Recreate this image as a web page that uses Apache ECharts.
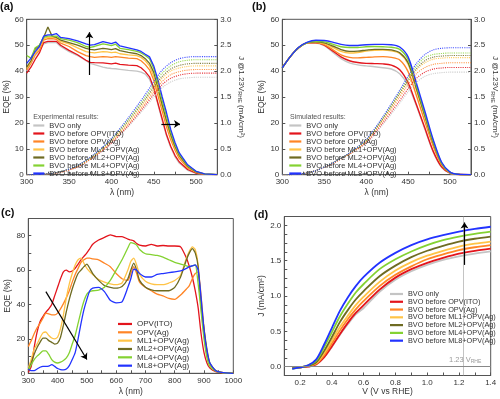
<!DOCTYPE html>
<html><head><meta charset="utf-8">
<script src="https://cdn.jsdelivr.net/npm/echarts/dist/echarts.min.js"></script>
<style>html,body{margin:0;padding:0;background:#fff}#c{width:500px;height:399px}</style>
</head><body><div id="c"></div><script>
// ---------- shared ----------
const names = ['BVO only','BVO before OPV(ITO)','BVO before OPV(Ag)','BVO before ML1+OPV(Ag)','BVO before ML2+OPV(Ag)','BVO before ML4+OPV(Ag)','BVO before ML8+OPV(Ag)'];
const colors = ['#c4c4c4','#e3141c','#ff8526','#ffc447','#6e6b22','#84d232','#2233ff'];
const namesC = ['OPV(ITO)','OPV(Ag)','ML1+OPV(Ag)','ML2+OPV(Ag)','ML4+OPV(Ag)','ML8+OPV(Ag)'];
const colorsC = ['#e3141c','#ff8526','#ffc447','#6e6b22','#84d232','#2233ff'];

// ---------- panel (a): experimental EQE ----------
const lamA = [300,305,310,315,320,325,330,335,340,350,360,370,375,380,390,395,400,405,410,420,430,435,440,445,450,455,460,465,470,475,480,490,500,510,525];
const eqeA_gray   = [40,43,46,48,50.5,51,51,51,49.5,47.5,46,44,43,42.5,41.5,41.2,41,40.9,40.7,40.3,40,39.6,38.8,36.8,33,27,20.8,15,10.5,7,4.5,1.7,0.5,0.1,0];
const eqeA_red    = [39.2,41.5,44.5,47,51,51.5,51.5,51.5,50,48,46.3,44.2,43.4,43.3,43.2,43,42.8,43.1,42.6,42.3,42.1,41.3,39.8,37.8,33.5,27.5,21.5,15.5,11,7.5,5,2,0.6,0.1,0];
const eqeA_orange = [40.5,43,46.5,48,52,52.5,52.5,52.3,50.8,49.5,47.5,46,45.6,45.3,45.6,45.5,45.3,45.6,45.4,45,44.8,44,42.5,40.5,36.5,30.5,24.5,18.5,13.5,9.5,6.3,2.6,0.9,0.2,0];
const eqeA_yellow = [41,43.5,47,49,52.5,53,53,52.8,51.5,50.5,49,47.5,47.2,47,47.5,47.4,47.1,47.3,46.7,46.3,46,45.3,44,42,38,32,26,20,14.5,10.3,7,3,1,0.2,0];
const eqeA_olive  = [41.5,44,48.5,50,53,57,53.5,53,52,51,50,48.8,48.4,48.2,48.8,48.6,48.3,48.7,47.9,47.2,46.7,46,44.8,43,39.5,33.5,27,21,15.5,11,7.5,3.2,1.1,0.25,0];
const eqeA_green  = [46,45,49,50,53,53.5,53.5,53.5,52.5,52,51,49.5,49.2,49.5,50.5,50.2,49.8,50.4,48.8,48.3,47.6,47,46,44.8,41,35,28.5,22.5,16.5,11.8,8,3.5,1.2,0.3,0];
const eqeA_blue   = [43,45,47.5,49.5,53.5,54,54,54.5,53,52.5,51.7,50.5,50,50.2,51.4,51,50.6,51.2,49.7,49,48.2,47.6,46.5,45.5,42,36.5,30,24,17.5,12.5,8.5,3.8,1.3,0.3,0];

const lamJ = [300,320,340,360,380,400,420,440,450,460,470,480,490,500,525];
const jA_gray   = [0,0.01,0.05,0.15,0.35,0.6,0.93,1.3,1.5,1.68,1.79,1.85,1.87,1.88,1.88];
const jA_red    = [0,0.01,0.05,0.15,0.35,0.61,0.95,1.34,1.55,1.74,1.86,1.92,1.95,1.96,1.96];
const jA_orange = [0,0.01,0.05,0.16,0.36,0.63,0.98,1.38,1.6,1.8,1.93,1.99,2.02,2.03,2.03];
const jA_yellow = [0,0.01,0.06,0.17,0.37,0.65,1.01,1.42,1.65,1.86,2.0,2.06,2.09,2.1,2.1];
const jA_olive  = [0,0.01,0.06,0.17,0.38,0.67,1.04,1.46,1.69,1.9,2.04,2.11,2.14,2.15,2.15];
const jA_green  = [0,0.01,0.06,0.18,0.39,0.69,1.07,1.5,1.74,1.96,2.1,2.18,2.21,2.22,2.22];
const jA_blue   = [0,0.01,0.06,0.18,0.4,0.7,1.1,1.55,1.8,2.02,2.16,2.24,2.27,2.28,2.28];

// ---------- panel (b): simulated EQE ----------
const lamB = [300,310,320,330,340,350,360,370,380,390,400,410,420,430,440,450,460,470,480,490,500,510,525];
const eqeB_gray   = [41.3,45.8,49.0,50.8,50.8,49.8,47.3,44.8,43.2,42.4,42.0,41.7,41.3,40.8,39.0,34.5,26.5,17.5,8.7,2.8,0.5,0.05,0];
const eqeB_red    = [41.3,45.8,49.1,50.9,50.9,50.0,47.8,45.5,44.0,43.3,43.0,42.9,42.8,42.3,40.5,35.5,27.0,18.0,9.0,3.0,0.6,0.05,0];
const eqeB_orange = [41.3,45.8,49.1,50.9,51.0,50.2,48.3,46.3,45.3,45.1,45.3,45.5,45.6,45.3,44.3,39.8,30.5,20.5,11.0,3.8,0.7,0.1,0];
const eqeB_yellow = [41.3,45.8,49.2,51.0,51.2,50.6,49.2,47.6,47.0,47.2,47.7,48.0,48.1,47.8,46.8,42.7,32.7,22.3,12.0,4.2,0.8,0.1,0];
const eqeB_olive  = [41.3,45.8,49.2,51.0,51.3,50.9,49.7,48.3,47.6,47.7,48.1,48.4,48.4,48.2,47.1,43.2,33.2,22.7,12.2,4.3,0.85,0.12,0];
const eqeB_green  = [41.3,45.8,49.2,51.0,51.5,51.3,50.4,49.4,49.1,49.1,49.4,49.5,49.4,49.2,48.4,44.5,34.2,23.5,12.8,4.5,0.9,0.12,0];
const eqeB_blue   = [41.3,45.8,49.3,51.2,51.9,51.8,51.2,50.3,49.9,49.9,50.2,50.3,50.3,50.2,49.3,45.5,35.2,24.5,13.5,4.8,1.0,0.15,0];

const jB_gray   = [0,0.01,0.08,0.22,0.39,0.6,0.97,1.38,1.6,1.78,1.9,1.95,1.97,1.98,1.98];
const jB_red    = [0,0.01,0.08,0.22,0.4,0.62,1.0,1.43,1.66,1.86,1.98,2.04,2.06,2.07,2.07];
const jB_orange = [0,0.01,0.08,0.22,0.4,0.64,1.04,1.5,1.74,1.95,2.07,2.13,2.15,2.16,2.16];
const jB_yellow = [0,0.01,0.08,0.23,0.41,0.66,1.07,1.55,1.8,2.02,2.16,2.23,2.25,2.26,2.26];
const jB_olive  = [0,0.01,0.08,0.23,0.41,0.66,1.08,1.57,1.82,2.05,2.2,2.27,2.29,2.3,2.3];
const jB_green  = [0,0.01,0.08,0.23,0.42,0.67,1.1,1.6,1.86,2.1,2.26,2.32,2.34,2.35,2.35];
const jB_blue   = [0,0.01,0.08,0.23,0.42,0.68,1.12,1.63,1.9,2.15,2.32,2.41,2.44,2.45,2.45];

// ---------- panel (c): OPV EQE ----------
const lamC = [300,310,320,330,340,350,360,370,380,390,400,410,420,430,440,450,460,470,480,490,500,510,520,540,560,580,600,620,640,650,660,670,680,700,720,740,760,780,800,820,840,850,860,870,880,890,900,910,920,940,960,1000];
const eqeC_ito    = [0.5,4,15,24,30,33,35.5,37.5,40,45,50,55,59,60,59,59.5,61,63.5,66,68,70,72.5,75,77.5,79,80.5,79.5,79.5,78,77.5,77,75.5,74.5,74,75,74,74.3,74,74,73.5,67,62,56,48,38,23,12,6,3,1,0.3,0];
const eqeC_ag     = [15.5,19,23,26.5,29,32,35,34.5,34,34,35,37.5,40.5,44,48,53,57.5,61,64.5,66,67,67,66.5,66,64,62,58,55,54,58,62,58,53,50,48,46,45,43.5,43,45.5,49,51,55,58,59,45,26,12,5,1.5,0.5,0];
const eqeC_ml1    = [3,8,14,17,20.5,23.5,24,22,20.5,20,21,26,34,44,52,58,63,66,67,64,61,59,57.5,54.5,53,52,51.5,52.5,60,65,67,63,57.5,53.5,52,51.5,51.5,52.5,54,57,67,71,73.5,72,63,38,22,10,5,1.5,0.5,0];
const eqeC_ml2    = [2,6,11,15,18,20.5,20.5,19,18,17,17.5,21,28,36,43,49,54,58,60,62,63.5,61,58,54,51,50,49.5,50.5,55,60,64,60,54,50,48.5,48,48,48,50,56,66,70,72.5,70,62,40,26,14,6,1.5,0.5,0];
const eqeC_ml4    = [2,5,8,10,11.5,13,13,11,8,6.5,6,6.5,7.5,9,12,17,22,29,36,42,46,47.5,48,48.3,50,54,60,66,73,76,75.5,74.5,72,69.5,69,68.5,67.5,66,64.5,63.5,62.5,62,62.5,63,52,36,20,9,4,1.2,0.4,0];
const eqeC_ml8    = [2.5,1.5,1.5,2.5,3.5,4,4,4.2,5,4,2.8,2.2,2,2.5,4.5,8,12,20,29,37,43,48,49.5,50,47.5,42.5,41,41.5,50,55,60.5,60,58,56,56,57.5,58,58.5,59,59.5,61,62,62.5,63,60,44,25,13,6,1.5,0.5,0];

// ---------- panel (d): J-V ----------
const vD = [0.15,0.2,0.25,0.3,0.35,0.4,0.45,0.5,0.55,0.6,0.7,0.8,0.9,1.0,1.1,1.2,1.3,1.4];
const jD_gray   = [-0.02,-0.01,0.0,0.03,0.13,0.28,0.45,0.6,0.74,0.83,1.06,1.23,1.35,1.44,1.51,1.56,1.6,1.63];
const jD_red    = [-0.02,-0.01,0.0,0.03,0.13,0.29,0.46,0.62,0.76,0.87,1.09,1.26,1.38,1.47,1.54,1.6,1.64,1.67];
const jD_orange = [-0.02,-0.01,0.01,0.04,0.16,0.33,0.51,0.67,0.81,0.93,1.14,1.3,1.42,1.52,1.59,1.65,1.69,1.72];
const jD_yellow = [-0.02,-0.01,0.01,0.05,0.19,0.37,0.56,0.72,0.87,0.99,1.2,1.36,1.48,1.57,1.64,1.7,1.74,1.77];
const jD_olive  = [-0.02,-0.01,0.01,0.06,0.22,0.42,0.63,0.8,0.95,1.07,1.28,1.43,1.55,1.64,1.71,1.77,1.81,1.84];
const jD_green  = [-0.03,-0.01,0.02,0.08,0.27,0.49,0.71,0.89,1.05,1.17,1.38,1.52,1.63,1.72,1.79,1.84,1.88,1.91];
const jD_blue   = [-0.03,-0.01,0.02,0.1,0.31,0.55,0.79,0.98,1.14,1.27,1.47,1.61,1.72,1.8,1.86,1.91,1.95,1.98];

const eqeA = [eqeA_gray,eqeA_red,eqeA_orange,eqeA_yellow,eqeA_olive,eqeA_green,eqeA_blue];
const jA = [jA_gray,jA_red,jA_orange,jA_yellow,jA_olive,jA_green,jA_blue];
const eqeB = [eqeB_gray,eqeB_red,eqeB_orange,eqeB_yellow,eqeB_olive,eqeB_green,eqeB_blue];
const jB = [jB_gray,jB_red,jB_orange,jB_yellow,jB_olive,jB_green,jB_blue];
const eqeC = [eqeC_ito,eqeC_ag,eqeC_ml1,eqeC_ml2,eqeC_ml4,eqeC_ml8];
const jD = [jD_gray,jD_red,jD_orange,jD_yellow,jD_olive,jD_green,jD_blue];

const FONT = 'Liberation Sans, Arial, sans-serif';
const pts = (xs, ys) => xs.map((x, i) => [x, ys[i]]);

const axBase = {
  axisLine: {show: true, onZero: false, lineStyle: {color: '#555', width: 1}},
  axisTick: {show: true, inside: true, length: 3, lineStyle: {color: '#555'}},
  axisLabel: {color: '#333', fontSize: 8, fontFamily: FONT, margin: 3},
  splitLine: {show: false},
  nameLocation: 'middle',
  nameTextStyle: {color: '#333', fontSize: 8.5, fontFamily: FONT}
};
function ax(o) { return Object.assign({}, JSON.parse(JSON.stringify(axBase)), o); }

const jName = 'J @1.23V{s|RHE} (mA/cm\u00B2)';
const jNameStyle = {color: '#333', fontSize: 8, fontFamily: FONT, rich: {s: {fontSize: 5.5, fontFamily: FONT, color: '#333', padding: [4, 0, 0, 0]}}};

const xAxis = [
  ax({gridIndex: 0, type: 'value', min: 300, max: 525, interval: 25, name: '\u03BB (nm)', nameGap: 13,
      axisLabel: Object.assign({}, axBase.axisLabel, {formatter: v => (v % 50 === 0 ? String(v) : '')})}),
  ax({gridIndex: 1, type: 'value', min: 300, max: 525, interval: 25, name: '\u03BB (nm)', nameGap: 13,
      axisLabel: Object.assign({}, axBase.axisLabel, {formatter: v => (v % 50 === 0 ? String(v) : '')})}),
  ax({gridIndex: 2, type: 'value', min: 300, max: 1000, interval: 50, name: '\u03BB (nm)', nameGap: 14,
      axisLabel: Object.assign({}, axBase.axisLabel, {formatter: v => (v % 100 === 0 ? String(v) : '')})}),
  ax({gridIndex: 3, type: 'value', min: 0.1, max: 1.4, interval: 0.1, name: 'V (V vs RHE)', nameGap: 10,
      axisLabel: Object.assign({}, axBase.axisLabel, {formatter: v => { const r = Math.round(v * 10); return r % 2 === 0 ? (r / 10).toFixed(1) : ''; }})})
];
const yAxis = [
  ax({gridIndex: 0, type: 'value', min: 0, max: 60, interval: 10, name: 'EQE (%)', nameGap: 15}),
  ax({gridIndex: 0, type: 'value', position: 'right', min: 0, max: 3, interval: 0.5, name: jName, nameGap: 19, nameRotate: -90,
      nameTextStyle: jNameStyle,
      axisLabel: Object.assign({}, axBase.axisLabel, {formatter: v => v.toFixed(1)})}),
  ax({gridIndex: 1, type: 'value', min: 0, max: 60, interval: 10, name: 'EQE (%)', nameGap: 15}),
  ax({gridIndex: 1, type: 'value', position: 'right', min: 0, max: 3, interval: 0.5, name: jName, nameGap: 19, nameRotate: -90,
      nameTextStyle: jNameStyle,
      axisLabel: Object.assign({}, axBase.axisLabel, {formatter: v => v.toFixed(1)})}),
  ax({gridIndex: 2, type: 'value', min: 0, max: 90, interval: 10, name: 'EQE (%)', nameGap: 16,
      axisLabel: Object.assign({}, axBase.axisLabel, {formatter: v => (v % 20 === 0 ? String(v) : '')})}),
  ax({gridIndex: 3, type: 'value', min: -0.125, max: 2.125, interval: 0.125, name: 'J (mA/cm\u00B2)', nameGap: 17,
      axisLabel: Object.assign({}, axBase.axisLabel, {formatter: v => { const r = Math.round(v * 1000); return (r >= 0 && r % 500 === 0) ? (r / 1000).toFixed(1) : ''; }})})
];

const series = [];
const lineS = (name, color, data, xi, yi, extra) => Object.assign({
  type: 'line', name, color, data, xAxisIndex: xi, yAxisIndex: yi,
  showSymbol: false, symbol: 'none', lineStyle: {color, width: 1.3}, silent: true, animation: false
}, extra || {});

const arrowMark = (lines) => ({
  silent: true, animation: false, symbol: ['none', 'arrow'], symbolSize: 6, label: {show: false},
  lineStyle: {color: '#000', width: 1.2, type: 'solid'}, emphasis: {disabled: true},
  data: lines.map(l => [{coord: l[0]}, {coord: l[1]}])
});

// (a)
for (let i = 0; i < 7; i++) {
  series.push(lineS(names[i], colors[i], pts(lamA, eqeA[i]), 0, 0,
    i === 0 ? {markLine: arrowMark([[[374, 38.5], [374, 55]], [[459, 19.6], [481, 19.6]]])} : {}));
}
for (let i = 0; i < 7; i++) {
  series.push(lineS('Ja' + i, colors[i], pts(lamJ, jA[i]), 0, 1, {smooth: 0.3, lineStyle: {color: colors[i], width: 1.1, type: 'dotted', opacity: 0.85}}));
}
// (b)
for (let i = 0; i < 7; i++) {
  series.push(lineS(names[i], colors[i], pts(lamB, eqeB[i]), 1, 2, {smooth: 0.3, lineStyle: {color: colors[i], width: 1.4}}));
}
for (let i = 0; i < 7; i++) {
  series.push(lineS('Jb' + i, colors[i], pts(lamJ, jB[i]), 1, 3, {smooth: 0.3, lineStyle: {color: colors[i], width: 1.1, type: 'dotted', opacity: 0.85}}));
}
// (c)
for (let i = 0; i < 6; i++) {
  series.push(lineS(namesC[i], colorsC[i], pts(lamC, eqeC[i]), 2, 4,
    Object.assign({smooth: 0.2}, i === 0 ? {markLine: arrowMark([[[360, 47.5], [500, 8]]])} : {})));
}
// (d)
for (let i = 0; i < 7; i++) {
  const extra = {smooth: 0.3, lineStyle: {color: colors[i], width: 1.8}};
  if (i === 0) {
    extra.markLine = {
      silent: true, animation: false, symbol: ['none', 'none'], label: {show: false}, emphasis: {disabled: true},
      data: [
        [{coord: [0.1, 0], lineStyle: {color: '#888', width: 1, type: 'solid'}}, {coord: [1.4, 0]}],
        [{coord: [1.23, -0.125], lineStyle: {color: '#888', width: 1, type: 'dotted'}}, {coord: [1.23, 2.125]}]
      ]
    };
  }
  if (i === 6) {
    extra.markLine = arrowMark([[[1.235, 1.44], [1.235, 2.04]]]);
  }
  series.push(lineS(names[i], colors[i], pts(vD, jD[i]), 3, 5, extra));
}

const legBase = {orient: 'vertical', icon: 'rect', itemGap: 0, padding: 0, selectedMode: false};
const legend = [
  Object.assign({}, legBase, {data: names, left: 33.3, top: 121.5, itemWidth: 11, itemHeight: 2.2,
    textStyle: {fontSize: 7.5, lineHeight: 7.1, color: '#333', fontFamily: FONT}}),
  Object.assign({}, legBase, {data: names, left: 289.3, top: 121.5, itemWidth: 12, itemHeight: 2.2,
    textStyle: {fontSize: 7.5, lineHeight: 7.1, color: '#333', fontFamily: FONT}}),
  Object.assign({}, legBase, {data: namesC, left: 118, top: 319.8, itemWidth: 14, itemHeight: 2.2,
    textStyle: {fontSize: 8, lineHeight: 8.34, color: '#333', fontFamily: FONT}}),
  Object.assign({}, legBase, {data: names, left: 390, top: 290.1, itemWidth: 13, itemHeight: 2.2,
    textStyle: {fontSize: 7.3, lineHeight: 7.78, color: '#333', fontFamily: FONT}})
];

const txt = (x, y, text, size, weight, fill, rich) => ({
  type: 'text', left: x, top: y, silent: true,
  style: {text, fontSize: size, fontWeight: weight || 'normal', fontFamily: FONT, fill: fill || '#222', rich: rich || undefined}
});
const graphic = [
  txt(0, 1, '(a)', 11, 'bold', '#111'),
  txt(252, 1, '(b)', 11, 'bold', '#111'),
  txt(1, 207, '(c)', 11, 'bold', '#111'),
  txt(254, 209, '(d)', 11, 'bold', '#111'),
  txt(33.3, 113.5, 'Experimental results:', 7, 'normal', '#555'),
  txt(290, 113.5, 'Simulated results:', 7, 'normal', '#555'),
  txt(449, 356, '1.23 V{s|RHE}', 7.5, 'normal', '#999', {s: {fontSize: 5, fill: '#999', fontFamily: FONT, padding: [3, 0, 0, 0]}})
];

const chart = echarts.init(document.getElementById('c'), null, {renderer: 'canvas'});
chart.setOption({
  animation: false,
  backgroundColor: '#fff',
  grid: [
    {left: 26.7, top: 19.3, width: 190.6, height: 155.4, show: true, borderColor: '#555', borderWidth: 1, backgroundColor: 'transparent'},
    {left: 282.3, top: 19.3, width: 190.4, height: 155.4, show: true, borderColor: '#555', borderWidth: 1, backgroundColor: 'transparent'},
    {left: 28.3, top: 218.5, width: 205, height: 154.8, show: true, borderColor: '#555', borderWidth: 1, backgroundColor: 'transparent'},
    {left: 284.3, top: 216.5, width: 206.4, height: 159, show: true, borderColor: '#555', borderWidth: 1, backgroundColor: 'transparent'}
  ],
  xAxis, yAxis, legend, series, graphic
});
</script></body></html>
